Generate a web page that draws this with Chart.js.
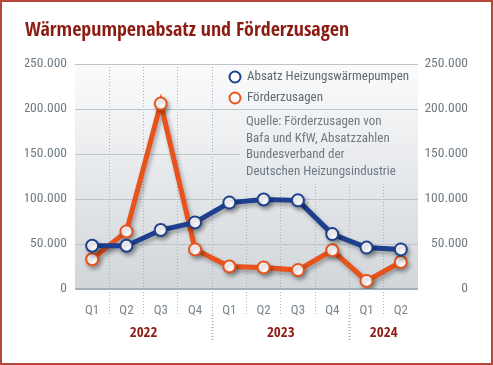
<!DOCTYPE html>
<html lang="de">
<head>
    <meta charset="UTF-8">
    <title>Wärmepumpenabsatz und Förderzusagen</title>
    <script src="https://cdn.jsdelivr.net/npm/chart.js@4.4.1/dist/chart.umd.min.js"></script>
    <style>
        body { margin: 0; background: #fff; }
        canvas { display: block; }
    </style>
</head>
<body>
    <canvas id="chart" width="493" height="365"></canvas>

    <script>
        // Data
        const quarters = ['Q1', 'Q2', 'Q3', 'Q4', 'Q1', 'Q2', 'Q3', 'Q4', 'Q1', 'Q2'];
        const years = ['2022', '2023', '2024'];
        const quartersPerYear = [4, 4, 2];
        const absatz = [48000, 48000, 65500, 74000, 96000, 99500, 98500, 61000, 46000, 44000];
        const foerder = [33000, 64000, 206000, 44000, 25000, 24000, 21000, 43000, 9000, 30000];
        const seriesNames = ['Absatz Heizungswärmepumpen', 'Förderzusagen'];
        const sourceLines = ['Quelle: Förderzusagen von', 'Bafa und KfW, Absatzzahlen', 'Bundesverband der', 'Deutschen Heizungsindustrie'];
        const titleText = 'Wärmepumpenabsatz und Förderzusagen';

        const FONT = '"Roboto Condensed", "DejaVu Sans Condensed", sans-serif';
        const BOLD_FONT = '"Open Sans Condensed", "Roboto Condensed", sans-serif';
        const BLUE = '#1d3f8e';
        const ORANGE = '#e8531c';
        const GREY_TEXT = '#6e7a83';

        // 250000 -> "250.000"
        function fmt(v) {
            return String(v).replace(/\B(?=(\d{3})+(?!\d))/g, '.');
        }

        let plotGradient = null;

        const deco = {
            id: 'deco',
            beforeDraw(chart) {
                const { ctx, chartArea: a } = chart;
                ctx.save();
                ctx.strokeStyle = '#b5483b';
                ctx.lineWidth = 2;
                ctx.strokeRect(1, 1, chart.width - 2, chart.height - 2);
                plotGradient = ctx.createLinearGradient(0, a.top, 0, a.bottom);
                plotGradient.addColorStop(0, '#fbfbfc');
                plotGradient.addColorStop(1, '#d1d6da');
                ctx.fillStyle = plotGradient;
                ctx.fillRect(a.left, a.top, a.right - a.left, a.bottom - a.top);
                ctx.restore();
            },
            beforeDatasetsDraw(chart) {
                const { ctx, chartArea: a, scales } = chart;
                const y = scales.y, x = scales.x;
                ctx.save();

                // legend / source box covers the grid
                const boxLeft = 240, boxBottom = 183;
                ctx.fillStyle = plotGradient;
                ctx.fillRect(boxLeft, a.top + 1, a.right - boxLeft, boxBottom - a.top - 1);
                const yl = Math.round(y.getPixelForValue(200000)) + 0.5;
                ctx.strokeStyle = '#bdc4ca';
                ctx.lineWidth = 1;
                ctx.beginPath();
                ctx.moveTo(boxLeft, yl);
                ctx.lineTo(a.right, yl);
                ctx.stroke();

                // legend items
                const colors = [BLUE, ORANGE];
                ctx.font = '13px ' + FONT;
                ctx.textBaseline = 'middle';
                ctx.textAlign = 'left';
                [77, 98].forEach((ly, i) => {
                    ctx.beginPath();
                    ctx.arc(235, ly, 5.5, 0, Math.PI * 2);
                    ctx.fillStyle = '#fff';
                    ctx.fill();
                    ctx.lineWidth = 2;
                    ctx.strokeStyle = colors[i];
                    ctx.stroke();
                    ctx.fillStyle = '#5d6971';
                    ctx.fillText(chart.data.datasets[i].label, 247, ly);
                });

                // source note
                ctx.fillStyle = GREY_TEXT;
                sourceLines.forEach((s, i) => ctx.fillText(s, 246, 122 + i * 16.6));

                // year separators and labels
                const step = x.getPixelForValue(1) - x.getPixelForValue(0);
                ctx.strokeStyle = '#a9b1b8';
                ctx.setLineDash([1, 2]);
                let idx = 0;
                ctx.font = 'bold 15px ' + BOLD_FONT;
                ctx.textAlign = 'center';
                ctx.fillStyle = '#8c1c13';
                years.forEach((yr, i) => {
                    const first = x.getPixelForValue(idx);
                    const last = x.getPixelForValue(idx + quartersPerYear[i] - 1);
                    ctx.fillText(yr, (first + last) / 2, 333);
                    idx += quartersPerYear[i];
                    if (i < years.length - 1) {
                        const sx = Math.round(last + step / 2) + 0.5;
                        ctx.beginPath();
                        ctx.moveTo(sx, a.bottom + 26);
                        ctx.lineTo(sx, 341);
                        ctx.stroke();
                    }
                });
                ctx.restore();

                // drop shadow under the lines and points
                ctx.save();
                ctx.shadowColor = 'rgba(0,0,0,0.3)';
                ctx.shadowBlur = 4;
                ctx.shadowOffsetX = 2;
                ctx.shadowOffsetY = 3;
            },
            afterDatasetsDraw(chart) {
                chart.ctx.restore();
            }
        };

        const ctx = document.getElementById('chart').getContext('2d');

        const chart = new Chart(ctx, {
            type: 'line',
            data: {
                labels: quarters,
                datasets: [{
                    label: seriesNames[0],
                    data: absatz,
                    borderColor: BLUE,
                    borderWidth: 5,
                    pointBackgroundColor: '#fff',
                    pointBorderColor: BLUE,
                    pointBorderWidth: 2,
                    pointRadius: 6,
                    tension: 0,
                    yAxisID: 'y'
                }, {
                    label: seriesNames[1],
                    data: foerder,
                    borderColor: ORANGE,
                    borderWidth: 5,
                    pointBackgroundColor: '#fff',
                    pointBorderColor: ORANGE,
                    pointBorderWidth: 2,
                    pointRadius: 6,
                    tension: 0,
                    yAxisID: 'y'
                }]
            },
            options: {
                responsive: false,
                animation: false,
                layout: { padding: { left: 25, right: 25, top: 0, bottom: 0 } },
                plugins: {
                    legend: { display: false },
                    tooltip: { enabled: false },
                    title: {
                        display: true,
                        text: titleText,
                        align: 'start',
                        color: '#8c1c13',
                        font: { family: BOLD_FONT, size: 20, weight: 'bold', lineHeight: 1.2 },
                        padding: { top: 19, bottom: 21 }
                    }
                },
                scales: {
                    x: {
                        offset: true,
                        border: { display: false, dash: [1, 2] },
                        grid: {
                            offset: true,
                            drawTicks: true,
                            tickLength: 26,
                            color: c => (c.index === undefined || c.index === 0) ? 'rgba(0,0,0,0)' : '#a9b1b8',
                            tickBorderDash: [1, 2]
                        },
                        ticks: {
                            color: '#7a858e',
                            font: { family: FONT, size: 13 },
                            padding: -12,
                            maxRotation: 0,
                            autoSkip: false
                        },
                        afterFit(scale) { scale.height = 76; }
                    },
                    y: {
                        position: 'left',
                        min: 0,
                        max: 250000,
                        border: { display: false },
                        grid: {
                            drawTicks: false,
                            color: c => c.tick && c.tick.value === 0 ? '#a7afb6' : '#bdc4ca',
                            lineWidth: c => c.tick && c.tick.value === 0 ? 2 : 1
                        },
                        ticks: {
                            stepSize: 50000,
                            padding: 8,
                            color: GREY_TEXT,
                            font: { family: FONT, size: 13.5 },
                            callback: v => fmt(v)
                        },
                        afterFit(scale) { scale.width = 50; }
                    },
                    y2: {
                        position: 'right',
                        min: 0,
                        max: 250000,
                        border: { display: false },
                        grid: { display: false, drawTicks: false },
                        ticks: {
                            stepSize: 50000,
                            padding: 8,
                            crossAlign: 'far',
                            color: GREY_TEXT,
                            font: { family: FONT, size: 13.5 },
                            callback: v => fmt(v)
                        },
                        afterFit(scale) { scale.width = 50; }
                    }
                }
            },
            plugins: [deco]
        });
    </script>
</body>
</html>
